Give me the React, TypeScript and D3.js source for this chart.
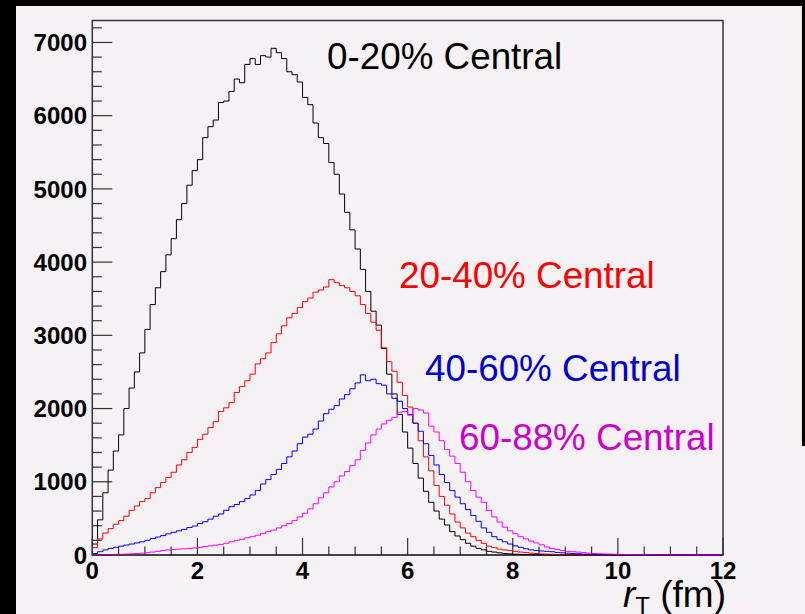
import React from "react";
import * as d3 from "d3";

// r_T distributions, bin width 0.1 fm from 0 to 12 fm
const binWidth = 0.1;

const central0to20 = [
  150, 480, 850, 1160, 1420, 1640, 2000, 2280, 2500, 2760,
  3080, 3420, 3650, 3870, 4100, 4320, 4580, 4800, 5050, 5250,
  5400, 5700, 5850, 5940, 6180, 6200, 6330, 6500, 6450, 6700,
  6780, 6700, 6820, 6800, 6920, 6860, 6780, 6600, 6560, 6460,
  6250, 6150, 5900, 5700, 5620, 5360, 5200, 4930, 4680, 4440,
  4180, 3900, 3600, 3330, 3140, 2820, 2470, 2200, 1920, 1680,
  1460, 1250, 1050, 870, 720, 600, 490, 410, 320, 260,
  210, 160, 120, 90, 70, 50, 40, 30, 20, 15,
  10, 8, 5, 3, 2, 1, 1, 0, 0, 0,
  0, 0, 0, 0, 0, 0, 0, 0, 0, 0,
  0, 0, 0, 0, 0, 0, 0, 0, 0, 0,
  0, 0, 0, 0, 0, 0, 0, 0, 0, 0,
];

const central20to40 = [
  100, 220, 300, 360, 420, 470, 530, 610, 670, 730,
  770, 850, 920, 990, 1060, 1130, 1230, 1300, 1400, 1470,
  1580, 1650, 1740, 1820, 1960, 2010, 2080, 2220, 2300, 2380,
  2470, 2610, 2680, 2760, 2900, 3020, 3130, 3240, 3300, 3380,
  3460, 3510, 3590, 3620, 3660, 3760, 3720, 3680, 3650, 3600,
  3540, 3420, 3300, 3180, 3070, 2830, 2640, 2510, 2360, 2180,
  2020, 1800, 1560, 1340, 1150, 950, 800, 680, 560, 450,
  370, 300, 250, 200, 160, 120, 100, 80, 70, 60,
  50, 40, 35, 25, 20, 15, 12, 10, 7, 5,
  4, 3, 2, 2, 1, 1, 1, 0, 0, 0,
  0, 0, 0, 0, 0, 0, 0, 0, 0, 0,
  0, 0, 0, 0, 0, 0, 0, 0, 0, 0,
];

const central40to60 = [
  20, 45, 70, 90, 105, 120, 135, 150, 165, 180,
  200, 225, 245, 265, 290, 310, 330, 350, 375, 395,
  430, 455, 490, 530, 560, 610, 660, 690, 730, 770,
  820, 880, 970, 1030, 1100, 1170, 1250, 1340, 1420, 1520,
  1610, 1650, 1720, 1830, 1930, 1990, 2040, 2130, 2190, 2270,
  2350, 2460, 2380, 2400, 2340, 2320, 2200, 2140, 2100, 2000,
  1920, 1800, 1690, 1520, 1360, 1230, 1100, 990, 880, 790,
  700, 620, 540, 460, 370, 310, 250, 210, 180, 150,
  125, 105, 85, 70, 60, 55, 50, 45, 35, 30,
  25, 20, 17, 12, 10, 8, 6, 4, 3, 2,
  2, 1, 1, 1, 0, 0, 0, 0, 0, 0,
  0, 0, 0, 0, 0, 0, 0, 0, 0, 0,
];

const central60to88 = [
  0, 2, 4, 6, 8, 10, 12, 16, 20, 25,
  32, 40, 50, 60, 70, 75, 80, 85, 90, 95,
  105, 115, 125, 135, 145, 160, 180, 200, 215, 235,
  250, 270, 295, 320, 340, 370, 400, 430, 470, 520,
  570, 630, 700, 780, 850, 930, 1000, 1080, 1140, 1220,
  1300, 1430, 1530, 1640, 1720, 1790, 1840, 1880, 1950, 1960,
  1910, 2000, 1980, 1940, 1760, 1680, 1560, 1440, 1350, 1250,
  1130, 1000, 880, 790, 720, 610, 520, 450, 380, 330,
  290, 250, 220, 190, 165, 140, 110, 90, 75, 60,
  50, 45, 40, 32, 25, 20, 17, 14, 12, 10,
  8, 7, 6, 5, 4, 3, 3, 2, 2, 1,
  1, 1, 1, 0, 0, 0, 0, 0, 0, 0,
];

const seriesNames = ["0-20% Central", "20-40% Central", "40-60% Central", "60-88% Central"];
const xTickLabels = [0, 2, 4, 6, 8, 10, 12];
const yTickLabels = [0, 1000, 2000, 3000, 4000, 5000, 6000, 7000];

const W = 805;
const H = 614;
const margin = { left: 92.3, right: 82, top: 20.5, bottom: 59 };

const App = () => {
  const x = d3.scaleLinear().domain([0, 12]).range([margin.left, W - margin.right]);
  const y = d3.scaleLinear().domain([0, 7300]).range([H - margin.bottom, margin.top]);

  const hist = d3.line<[number, number]>()
    .x(d => x(d[0]))
    .y(d => y(d[1]))
    .curve(d3.curveStepAfter);

  const toPoints = (vals: number[]): [number, number][] => {
    const pts: [number, number][] = vals.map((v, i) => [i * binWidth, v]);
    pts.push([vals.length * binWidth, vals[vals.length - 1]]);
    return pts;
  };

  const series = [
    { vals: central0to20, line: "#000000", text: "#000000", lx: 327, ly: 69 },
    { vals: central20to40, line: "#ff0000", text: "#ff0000", lx: 399, ly: 288 },
    { vals: central40to60, line: "#0000ff", text: "#0000cc", lx: 425, ly: 381 },
    { vals: central60to88, line: "#ff00ff", text: "#cc00cc", lx: 459, ly: 450 },
  ];

  const x0 = x(0), x1 = x(12), y0 = y(0), y1 = margin.top;
  const xMinor = d3.range(0, 12.01, 0.5);
  const yMinor = d3.range(0, 7201, 200);
  const font = "'Liberation Sans', Arial, Helvetica, sans-serif";

  return (
    <svg width={W} height={H} style={{ position: "absolute", left: 0, top: 0 }} fontFamily={font}>
      <rect x={0} y={0} width={W} height={H} fill="#f5f1f5" />
      <rect x={0} y={0} width={16} height={H} fill="#000" />
      <rect x={0} y={0} width={W} height={6} fill="#000" />
      <rect x={801} y={6} width={1.2} height={440} fill="#e8e4a0" />
      <rect x={802} y={0} width={3} height={446} fill="#000" />

      {/* frame */}
      <rect x={x0} y={y1} width={x1 - x0} height={y0 - y1} fill="none" stroke="#333" strokeWidth={1.5} />

      {/* y ticks */}
      {yMinor.map(v => (
        <line key={"ym" + v} x1={x0} x2={x0 + (v % 1000 === 0 ? 20 : 9.5)} y1={y(v)} y2={y(v)} stroke="#333" strokeWidth={1.2} />
      ))}
      {/* x ticks */}
      {xMinor.map(v => (
        <line key={"xm" + v} x1={x(v)} x2={x(v)} y1={y0} y2={y0 - (v % 2 === 0 ? 17 : 8.5)} stroke="#333" strokeWidth={1.2} />
      ))}

      {/* histograms */}
      {series.map((s, i) => (
        <path key={"h" + i} d={hist(toPoints(s.vals)) || ""} fill="none" stroke={s.line} strokeWidth={1} />
      ))}

      <line x1={x0} x2={x1} y1={y0} y2={y0} stroke="#000" strokeWidth={1.2} opacity={0.6} />

      {/* tick labels */}
      {yTickLabels.map(v => (
        <text key={"yl" + v} x={87} y={y(v) + 8.6} textAnchor="end" fontSize={24} fontWeight="bold" fill="#000">{v}</text>
      ))}
      {xTickLabels.map(v => (
        <text key={"xl" + v} x={x(v)} y={579} textAnchor="middle" fontSize={24} fontWeight="bold" fill="#000">{v}</text>
      ))}

      {/* series labels */}
      {series.map((s, i) => (
        <text key={"t" + i} x={s.lx} y={s.ly} fontSize={36.8} fill={s.text}>{seriesNames[i]}</text>
      ))}

      {/* x axis title */}
      <text x={726} y={607} textAnchor="end" fontSize={37} fill="#000">
        <tspan fontStyle="italic">r</tspan>
        <tspan fontSize={24} dy={7}>T</tspan>
        <tspan dy={-7}> (fm)</tspan>
      </text>
    </svg>
  );
};

export default App;
